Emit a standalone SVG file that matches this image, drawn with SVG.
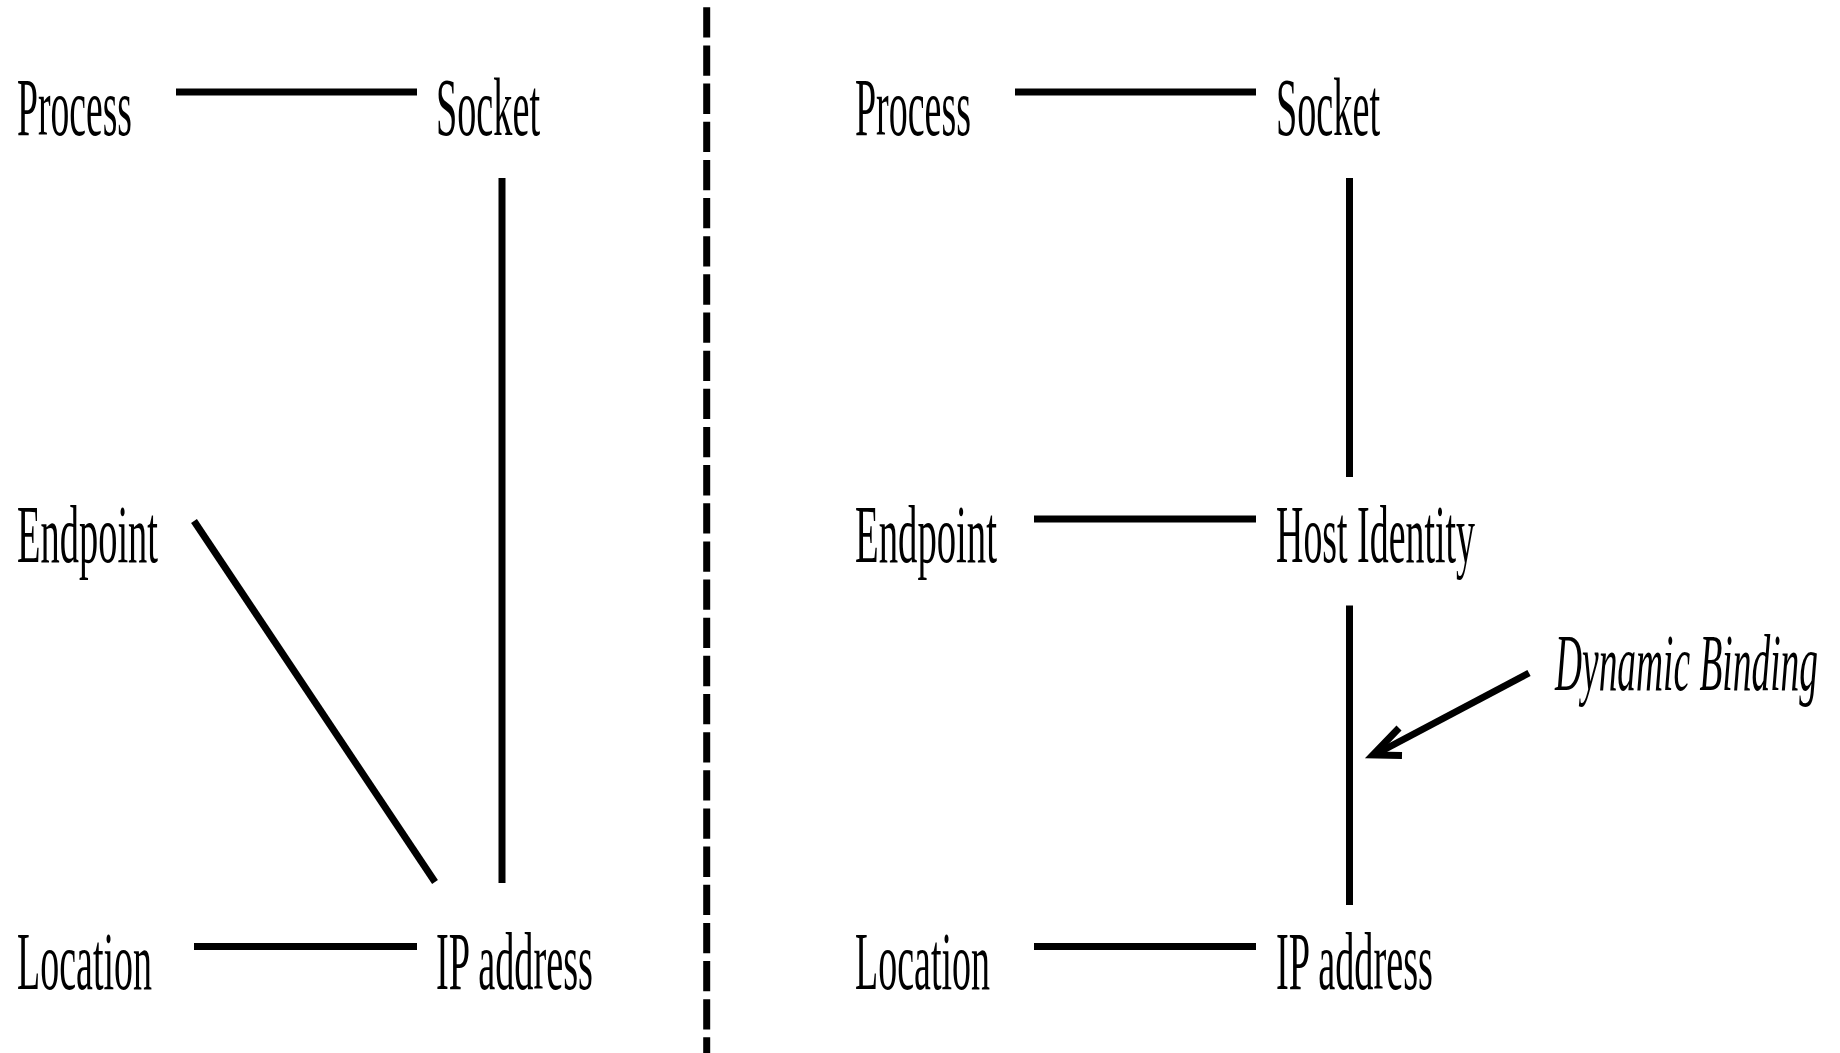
<svg xmlns="http://www.w3.org/2000/svg" width="1840" height="1053" viewBox="0 0 1840 1053">
<style>
.t{font-family:"Liberation Serif","Times New Roman",serif;font-size:82px;fill:#000}
.i{font-style:italic;font-size:80px}
.c{stroke:#000;stroke-width:7;fill:none}
</style>
<rect width="1840" height="1053" fill="#fff"/>
<g id="connectors">
<line class="c" x1="706.7" y1="7.3" x2="706.7" y2="1053" stroke-dasharray="30.3 7.85"/>
<line class="c" x1="176" y1="92" x2="417" y2="92"/>
<line class="c" x1="502" y1="178" x2="502" y2="883"/>
<line class="c" x1="194" y1="521" x2="435" y2="882"/>
<line class="c" x1="194" y1="946.5" x2="417" y2="946.5"/>
<line class="c" x1="1015" y1="92" x2="1256" y2="92"/>
<line class="c" x1="1349.5" y1="178" x2="1349.5" y2="477"/>
<line class="c" x1="1034" y1="519" x2="1256" y2="519"/>
<line class="c" x1="1349.5" y1="605.5" x2="1349.5" y2="905"/>
<line class="c" x1="1034" y1="946.5" x2="1256" y2="946.5"/>
<line class="c" x1="1529" y1="673" x2="1374" y2="755"/>
<polyline class="c" points="1399,728 1373,755 1402,755.5" stroke-linejoin="miter"/>
</g>
<g id="left-process"><text class="t" x="17" y="135" textLength="115" lengthAdjust="spacingAndGlyphs">Process</text></g>
<g id="left-socket"><text class="t" x="436" y="135" textLength="104" lengthAdjust="spacingAndGlyphs">Socket</text></g>
<g id="left-endpoint"><text class="t" x="17" y="562" textLength="141" lengthAdjust="spacingAndGlyphs">Endpoint</text></g>
<g id="left-location"><text class="t" x="17" y="989" textLength="135" lengthAdjust="spacingAndGlyphs">Location</text></g>
<g id="left-ip"><text class="t" x="436" y="989" textLength="157" lengthAdjust="spacingAndGlyphs">IP address</text></g>
<g id="right-process"><text class="t" x="855" y="135" textLength="116" lengthAdjust="spacingAndGlyphs">Process</text></g>
<g id="right-socket"><text class="t" x="1276" y="135" textLength="104" lengthAdjust="spacingAndGlyphs">Socket</text></g>
<g id="right-endpoint"><text class="t" x="855" y="562" textLength="142" lengthAdjust="spacingAndGlyphs">Endpoint</text></g>
<g id="right-hostidentity"><text class="t" x="1276" y="562" textLength="199" lengthAdjust="spacingAndGlyphs">Host Identity</text></g>
<g id="right-location"><text class="t" x="855" y="989" textLength="135" lengthAdjust="spacingAndGlyphs">Location</text></g>
<g id="right-ip"><text class="t" x="1276" y="989" textLength="157" lengthAdjust="spacingAndGlyphs">IP address</text></g>
<g id="dynamic-binding" transform="translate(1555,690) scale(0.468,1)"><text class="t i" x="0" y="0">Dynamic Binding</text></g>
</svg>
